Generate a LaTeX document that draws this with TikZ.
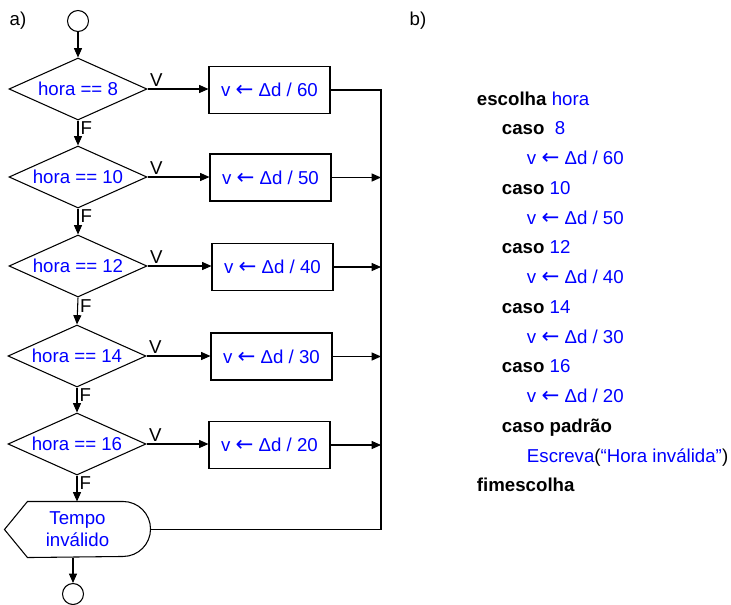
\documentclass[tikz,border=0pt]{standalone}
\usepackage{fontspec}
\setmainfont{Liberation Sans}
\newfontfamily\setafont{DejaVu Sans}
\newcommand\atrib{{\setafont\fontsize{16}{16}\selectfont ←}}
\usetikzlibrary{shapes.geometric,arrows.meta}

\begin{document}
\begin{tikzpicture}[x=0.75pt,y=0.75pt,line width=0.8pt,
  every node/.append style={font=\fontsize{14}{16.5}\selectfont},
  decisao/.style={draw,diamond,aspect=2.2,inner sep=0pt,minimum width=103.5pt,minimum height=46.5pt,text=blue},
  proc/.style={draw,rectangle,inner sep=0pt,minimum width=90.75pt,minimum height=35.25pt,text=blue},
  conector/.style={draw,circle,inner sep=0pt,minimum size=15.75pt},
  seta/.style={-{Triangle[length=7pt,width=6pt]}},
  rot/.style={inner sep=1.5pt}]
  \useasboundingbox (0,0) rectangle (731,-604);
  % a) fluxograma
  \node[rot] (a) at (18,-21) {a)};
  \node[conector] (ini) at (78,-21) {};
  \node[decisao] (d1) at (78,-89) {hora == 8};
  \node[decisao] (d2) at (78,-177) {hora == 10};
  \node[decisao] (d3) at (78,-266) {hora == 12};
  \node[decisao] (d4) at (77,-356) {hora == 14};
  \node[decisao] (d5) at (77,-444) {hora == 16};
  \node[proc] (p1) at (269.5,-90) {v \atrib\ Δd / 60};
  \node[proc] (p2) at (270.5,-177.5) {v \atrib\ Δd / 50};
  \node[proc] (p3) at (272.5,-267) {v \atrib\ Δd / 40};
  \node[proc] (p4) at (271.5,-356.5) {v \atrib\ Δd / 30};
  \node[proc] (p5) at (269.5,-445) {v \atrib\ Δd / 20};
  \node[minimum width=108.75pt,minimum height=41.25pt,inner sep=0pt,text=blue,align=center] (msg) at (77.5,-529.5) {Tempo\\inválido};
  \draw ([xshift=17.25pt]msg.north west) -- ([xshift=-20.625pt]msg.north east)
    arc (90:-90:20.625pt) -- ([xshift=17.25pt]msg.south west) -- (msg.west) -- cycle;
  \node[conector] (fim) at (73,-594) {};
  \coordinate (bus) at (381,-89);
  % ligacoes
  \draw[seta] (ini) -- (d1);
  \draw[seta] (d1.south) -- node[rot,right,pos=0.3] {F} (d2.north);
  \draw[seta] (d2.south) -- node[rot,right,pos=0.3] {F} (d3.north);
  \draw[seta] (d3.south) -- node[rot,right,pos=0.3] {F} (d4.north);
  \draw[seta] (d4.south) -- node[rot,right,pos=0.3] {F} (d5.north);
  \draw[seta] (d5.south) -- node[rot,right,pos=0.3] {F} (d5.south |- msg.north);
  \draw[seta] (fim |- msg.south) -- (fim);
  \draw[seta] (d1.east) -- node[rot,above right,pos=0] {V} (d1.east -| p1.west);
  \draw[seta] (d2.east) -- node[rot,above right,pos=0] {V} (d2.east -| p2.west);
  \draw[seta] (d3.east) -- node[rot,above right,pos=0] {V} (d3.east -| p3.west);
  \draw[seta] (d4.east) -- node[rot,above right,pos=0] {V} (d4.east -| p4.west);
  \draw[seta] (d5.east) -- node[rot,above right,pos=0] {V} (d5.east -| p5.west);
  \draw (p1.east) -- (p1.east -| bus) -- (bus |- msg.east) -- (msg.east);
  \draw[seta] (p2.east) -- (p2.east -| bus);
  \draw[seta] (p3.east) -- (p3.east -| bus);
  \draw[seta] (p4.east) -- (p4.east -| bus);
  \draw[seta] (p5.east) -- (p5.east -| bus);
  % b) pseudocodigo
  \node[rot] (b) at (418,-21) {b)};
  \node[anchor=base west] (l0) at (472,-105) {\textbf{escolha} \textcolor{blue}{hora}};
  \node[anchor=base west] (l1) at (497,-134.75) {\textbf{caso}\ \ \textcolor{blue}{8}};
  \node[anchor=base west,text=blue] (l2) at (522,-164.5) {v \atrib\ Δd / 60};
  \node[anchor=base west] (l3) at (497,-194.25) {\textbf{caso} \textcolor{blue}{10}};
  \node[anchor=base west,text=blue] (l4) at (522,-224) {v \atrib\ Δd / 50};
  \node[anchor=base west] (l5) at (497,-253.75) {\textbf{caso} \textcolor{blue}{12}};
  \node[anchor=base west,text=blue] (l6) at (522,-283.5) {v \atrib\ Δd / 40};
  \node[anchor=base west] (l7) at (497,-313.25) {\textbf{caso} \textcolor{blue}{14}};
  \node[anchor=base west,text=blue] (l8) at (522,-343) {v \atrib\ Δd / 30};
  \node[anchor=base west] (l9) at (497,-372.75) {\textbf{caso} \textcolor{blue}{16}};
  \node[anchor=base west,text=blue] (l10) at (522,-402.5) {v \atrib\ Δd / 20};
  \node[anchor=base west] (l11) at (497,-432.25) {\textbf{caso padrão}};
  \node[anchor=base west] (l12) at (522,-462) {\textcolor{blue}{Escreva}(\textcolor{blue}{“Hora inválida”})};
  \node[anchor=base west] (l13) at (472,-491.75) {\textbf{fimescolha}};
\end{tikzpicture}
\end{document}
